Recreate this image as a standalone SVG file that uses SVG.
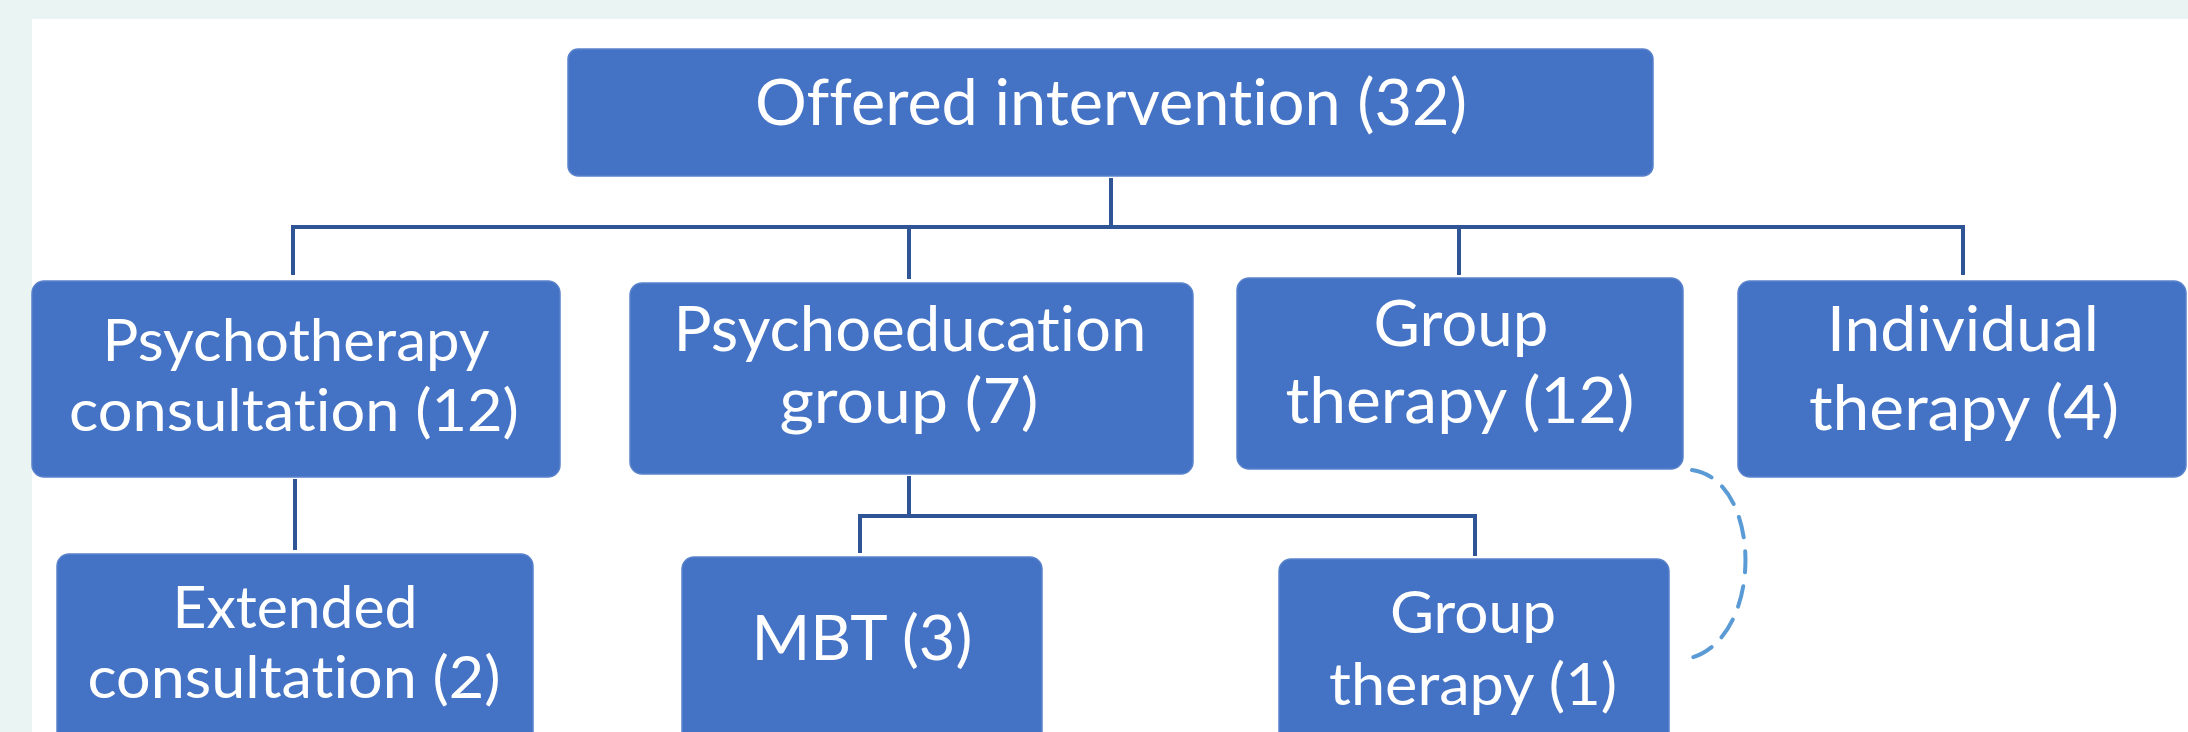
<svg xmlns="http://www.w3.org/2000/svg" width="2188" height="732" viewBox="0 0 2188 732">
<style>
.box{fill:#4472C4;stroke:#5A83CC;stroke-width:1.5}
.t{font-family:Lato,"Open Sans","Liberation Sans",sans-serif;fill:#FFFFFF;text-anchor:middle;font-variant-ligatures:none;font-feature-settings:"liga" 0}
.ln{fill:none;stroke:#2F5597;stroke-width:4}
.dash{fill:none;stroke:#5B9BD5;stroke-width:4;stroke-dasharray:21 14;stroke-linecap:round}
</style>
<rect x="0" y="0" width="2188" height="732" fill="#EAF4F2"/>
<rect x="32" y="19" width="2156" height="713" fill="#FFFFFF"/>
<g id="connectors">
<path class="ln" d="M1111,178 V227"/>
<path class="ln" d="M293,275 V227 H1963 V275"/>
<path class="ln" d="M909,227 V279"/>
<path class="ln" d="M1459,227 V275"/>
<path class="ln" d="M295,479 V550"/>
<path class="ln" d="M909,476 V516"/>
<path class="ln" d="M860,553 V516 H1475 V556"/>
<path class="dash" d="M1692,470 C1765,480 1765,650 1681,660"/>
</g>
<g id="n-offered">
<rect class="box" x="568" y="49" width="1085" height="127" rx="10"/>
<text class="t" x="1111" y="125" font-size="63" textLength="712" lengthAdjust="spacingAndGlyphs">Offered intervention (32)</text>
</g>
<g id="n-psychotherapy">
<rect class="box" x="32" y="281" width="528" height="196" rx="12"/>
<text class="t" x="296" y="361" font-size="58.5" textLength="387" lengthAdjust="spacingAndGlyphs">Psychotherapy</text>
<text class="t" x="294" y="431" font-size="58.5" textLength="450" lengthAdjust="spacingAndGlyphs">consultation (12)</text>
</g>
<g id="n-psychoeducation">
<rect class="box" x="630" y="283" width="563" height="191" rx="12"/>
<text class="t" x="910" y="351" font-size="62" textLength="473" lengthAdjust="spacingAndGlyphs">Psychoeducation</text>
<text class="t" x="909" y="423" font-size="62" textLength="259" lengthAdjust="spacingAndGlyphs">group (7)</text>
</g>
<g id="n-grouptherapy">
<rect class="box" x="1237" y="278" width="446" height="191" rx="12"/>
<text class="t" x="1461" y="346" font-size="63" textLength="175" lengthAdjust="spacingAndGlyphs">Group</text>
<text class="t" x="1460" y="423" font-size="63" textLength="349" lengthAdjust="spacingAndGlyphs">therapy (12)</text>
</g>
<g id="n-individual">
<rect class="box" x="1738" y="281" width="448" height="196" rx="12"/>
<text class="t" x="1963" y="351" font-size="62" textLength="272" lengthAdjust="spacingAndGlyphs">Individual</text>
<text class="t" x="1964" y="430" font-size="62" textLength="310" lengthAdjust="spacingAndGlyphs">therapy (4)</text>
</g>
<g id="n-extended">
<rect class="box" x="57" y="554" width="476" height="190" rx="12"/>
<text class="t" x="295" y="628" font-size="58.5" textLength="245" lengthAdjust="spacingAndGlyphs">Extended</text>
<text class="t" x="294" y="698" font-size="58.5" textLength="413" lengthAdjust="spacingAndGlyphs">consultation (2)</text>
</g>
<g id="n-mbt">
<rect class="box" x="682" y="557" width="360" height="190" rx="12"/>
<text class="t" x="862" y="660" font-size="62" textLength="221" lengthAdjust="spacingAndGlyphs">MBT (3)</text>
</g>
<g id="n-grouptherapy1">
<rect class="box" x="1279" y="559" width="390" height="190" rx="12"/>
<text class="t" x="1473" y="633" font-size="58.5" textLength="166" lengthAdjust="spacingAndGlyphs">Group</text>
<text class="t" x="1473" y="705" font-size="58.5" textLength="288" lengthAdjust="spacingAndGlyphs">therapy (1)</text>
</g>
</svg>
